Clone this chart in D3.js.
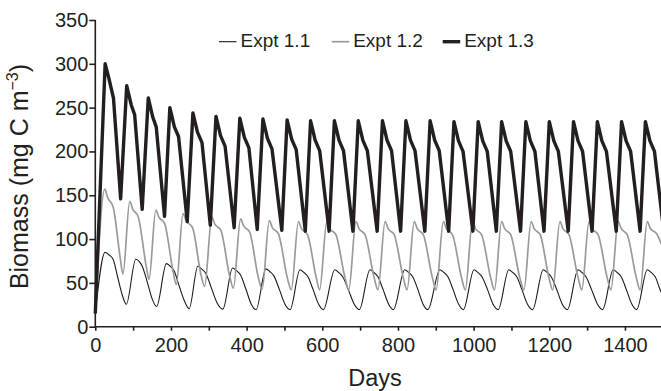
<!DOCTYPE html>
<html>
<head>
<meta charset="utf-8">
<script src="https://cdn.jsdelivr.net/npm/d3@7"></script>
<style>
  body { margin: 0; background: #fff; }
  text { font-family: "Liberation Sans", Arial, sans-serif; fill: #231f20; }
</style>
</head>
<body>
<div id="chart"></div>
<script>

var seriesNames = ["Expt 1.1", "Expt 1.2", "Expt 1.3"];
var xTicks = [0, 200, 400, 600, 800, 1000, 1200, 1400];
var yTicks = [0, 50, 100, 150, 200, 250, 300, 350];

// [day, biomass]
var expt11 = [[0,15],[26,85],[36,82],[47,77],[60,55],[72,35],[82,25.6],
  [107,77],[117,74],[124,69],[138,50],[150,32],[162,23],
  [188,72],[198,69],[208,64],[222,46],[236,29],[248,20.5],
  [271,69],[281,66],[292,61],[307,44],[322,27],[337,20],
  [363,67],[373,64],[384,59],[398,43],[412,26],[425,19.5],
  [451,66],[461,63],[472,58],[487,42],[501,26],[515,19.5],
  [541,65],[551,62],[562,57],[576,42],[590,26],[603,19.5],
  [633,65],[643,62],[654,57],[669,42],[684,26],[698,19.5],
  [726,65],[736,62],[747,57],[761,42],[775,26],[788,19.5],
  [818,65],[828,62],[839,57],[853,42],[866,26],[879,19.5],
  [911,65],[921,62],[932,57],[946,42],[960,26],[973,19.5],
  [1001,65],[1011,62],[1022,57],[1037,42],[1051,26],[1065,19.5],
  [1093,65],[1103,62],[1114,57],[1128,42],[1142,26],[1156,19.5],
  [1184,65],[1194,62],[1205,57],[1220,42],[1234,26],[1248,19.5],
  [1276,65],[1286,62],[1297,57],[1312,42],[1327,26],[1341,19.5],
  [1369,65],[1379,62],[1390,57],[1404,42],[1418,26],[1431,19.5],
  [1459,65],[1469,62],[1480,57],[1495,40],[1500,36]];

var expt12 = [[0,15],[25,157],[33,147],[47,137],[66,78],[73,60],
  [91,143],[99,134],[113,126],[135,68],[142,54],
  [160,133],[168,125],[183,118],[206,62],[214,48],
  [232,129],[240,121],[257,113],[280,58],[289,46],
  [308,125],[316,117],[332,110],[355,58],[365,44],
  [384,123],[392,115],[408,108],[431,56],[441,43],
  [460,121],[468,113],[484,106],[508,55],[518,42],
  [537,120],[545,112],[561,105],[584,56],[593,42],
  [612,120],[620,112],[636,105],[660,56],[670,42],
  [689,120],[697,112],[713,105],[737,56],[747,42],
  [766,120],[774,112],[790,105],[814,56],[824,42],
  [843,120],[851,112],[867,105],[891,56],[901,42],
  [920,120],[928,112],[944,105],[968,56],[978,42],
  [997,120],[1005,112],[1021,105],[1045,56],[1055,42],
  [1074,120],[1082,112],[1098,105],[1122,56],[1133,42],
  [1152,120],[1160,112],[1176,105],[1199,56],[1209,42],
  [1228,120],[1236,112],[1252,105],[1276,56],[1286,42],
  [1305,120],[1313,112],[1329,105],[1353,56],[1363,42],
  [1382,120],[1390,112],[1406,105],[1430,56],[1440,42],
  [1459,120],[1467,112],[1484,106],[1500,90]];

var expt13 = [[0,15],[26,300],[35,285],[48,261],[67,146],
  [83,275],[88,266],[95,253],[104,242],[124,134],
  [140,261],[145,252],[152,239],[161,228],[183,126],
  [197,250],[202,241],[209,228],[220,217],[243,120],
  [258,244],[263,235],[270,222],[282,210],[304,116],
  [319,240],[324,231],[331,218],[343,206],[367,113],
  [382,238],[387,229],[394,216],[406,204],[428,111],
  [443,237],[448,228],[455,215],[467,203],[493,110],
  [507,236],[512,227],[519,214],[531,202],[555,109],
  [569,235],[574,226],[581,213],[593,201],[618,109],
  [632,235],[637,226],[644,213],[656,201],[681,109],
  [695,235],[700,226],[707,213],[719,201],[745,109],
  [759,235],[764,226],[771,213],[783,201],[807,109],
  [821,235],[826,226],[833,213],[845,201],[871,109],
  [885,235],[890,226],[897,213],[909,201],[934,109],
  [948,234],[953,225],[960,212],[972,200],[998,109],
  [1012,234],[1017,225],[1024,212],[1036,200],[1060,109],
  [1074,234],[1079,225],[1086,212],[1098,200],[1124,109],
  [1138,234],[1143,225],[1150,212],[1162,200],[1186,109],
  [1200,234],[1205,225],[1212,212],[1224,200],[1250,109],
  [1264,234],[1269,225],[1276,212],[1288,200],[1313,109],
  [1327,234],[1332,225],[1339,212],[1351,200],[1377,109],
  [1391,234],[1396,225],[1403,212],[1415,200],[1440,109],
  [1454,234],[1459,225],[1466,212],[1478,200],[1500,118]];

var width = 661, height = 391;

var svg = d3.select("#chart")
            .append("svg")
            .attr("width", width)
            .attr("height", height);

var xScale = d3.scaleLinear().domain([0, 1500]).range([95.3, 662.8]);
var yScale = d3.scaleLinear().domain([0, 350]).range([326.7, 20]);

var styles = [
  {color: "#1a1a1a", w: 1.1, curve: d3.curveMonotoneX},
  {color: "#9a9a9a", w: 1.7, curve: d3.curveMonotoneX},
  {color: "#231f20", w: 3.4, curve: d3.curveLinear}
];
var series = [expt11, expt12, expt13];

series.forEach(function(data, i){
  var line = d3.line()
      .x(function(d){ return xScale(d[0]); })
      .y(function(d){ return yScale(d[1]); })
      .curve(styles[i].curve);
  svg.append("path")
      .datum(data)
      .attr("d", line)
      .attr("fill", "none")
      .attr("stroke", styles[i].color)
      .attr("stroke-width", styles[i].w)
      .attr("stroke-linejoin", "round");
});

// axes
var xAxis = svg.append("g")
    .attr("transform", "translate(0," + yScale(0) + ")")
    .call(d3.axisBottom(xScale)
      .tickValues(d3.range(0, 1500, 100))
      .tickSize(4)
      .tickFormat(function(d){ return xTicks.indexOf(d) >= 0 ? d : ""; }));
xAxis.select(".domain").attr("d", "M" + xScale(0) + ",0H" + width);

var yAxis = svg.append("g")
    .attr("transform", "translate(" + xScale(0) + ",0)")
    .call(d3.axisLeft(yScale).tickValues(yTicks).tickSize(6).tickFormat(d3.format("d")));
yAxis.select(".domain").attr("d", "M0," + yScale(350) + "V" + yScale(0));

svg.selectAll(".domain, .tick line")
    .attr("stroke", "#231f20")
    .attr("stroke-width", 1.6);
xAxis.selectAll(".tick text")
    .attr("y", 11)
    .style("font-size", "20px");
yAxis.selectAll(".tick text")
    .attr("x", -7)
    .style("font-size", "20px");
svg.selectAll(".tick text").attr("fill", "#231f20").style("font-family", "Liberation Sans, Arial, sans-serif");

svg.append("text")
    .attr("x", 375)
    .attr("y", 386)
    .attr("text-anchor", "middle")
    .style("font-size", "23.5px")
    .text("Days");

var ylab = svg.append("text")
    .attr("transform", "translate(28,176.5) rotate(-90)")
    .attr("text-anchor", "middle")
    .style("font-size", "25px");
ylab.append("tspan").text("Biomass (mg C m");
ylab.append("tspan").attr("dy", -10).style("font-size", "16px").text("\u22123");
ylab.append("tspan").attr("dy", 10).text(")");

// legend
var legendX = [219, 331.7, 442.7];
seriesNames.forEach(function(name, i){
  svg.append("line")
      .attr("x1", legendX[i])
      .attr("x2", legendX[i] + 17.5)
      .attr("y1", 41.7)
      .attr("y2", 41.7)
      .attr("stroke", styles[i].color)
      .attr("stroke-width", styles[i].w);
  svg.append("text")
      .attr("x", legendX[i] + 21.5)
      .attr("y", 47)
      .style("font-size", "19px")
      .text(name);
});

</script>
</body>
</html>
